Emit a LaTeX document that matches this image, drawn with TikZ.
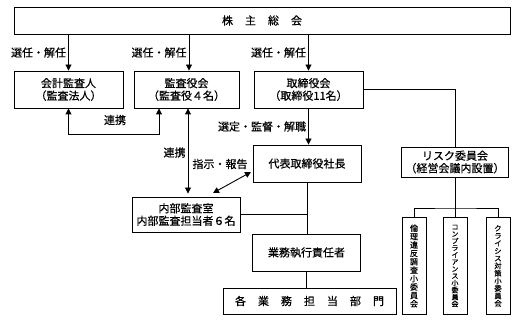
\documentclass[tikz,border=0pt]{standalone}
\usepackage{fontspec}
\setmainfont{Noto Sans CJK JP}[FakeBold=0.5]
\usetikzlibrary{calc,arrows.meta}
\begin{document}
\begin{tikzpicture}[x=1pt,y=-1pt,
  box/.style={draw,line width=0.9pt,rectangle,inner sep=0pt,align=center,font=\fontsize{11}{12.5}\selectfont},
  vbox/.style={draw,line width=0.9pt,rectangle,inner sep=0pt,align=center,minimum height=97pt},
  conn/.style={line width=0.9pt},
  arr/.style={conn,-{Triangle[width=6pt,length=6pt]}},
  darr/.style={conn,{Triangle[width=6pt,length=6pt]}-{Triangle[width=6pt,length=6pt]}},
  lab/.style={font=\fontsize{11}{12}\selectfont,inner sep=2pt}]
\useasboundingbox (0,0) rectangle (517,320);
\node[box,minimum width=496pt,minimum height=27pt] (sh) at (262,20.5) {株\hspace{12pt}主\hspace{12pt}総\hspace{12pt}会};
\node[box,minimum width=109pt,minimum height=37pt] (ka) at (68.5,89.5) {会計監査人\\（監査法人）};
\node[box,minimum width=105pt,minimum height=37pt] (kan) at (186.5,89.5) {監査役会\\（監査役４名）};
\node[box,minimum width=109pt,minimum height=37pt] (tori) at (308.5,89.5) {取締役会\\（取締役11名）};
\node[box,minimum width=108pt,minimum height=37pt] (dai) at (307,163.5) {代表取締役社長};
\node[box,minimum width=108pt,minimum height=35pt] (nai) at (186,214.5) {内部監査室\\内部監査担当者６名};
\node[box,minimum width=108pt,minimum height=37pt] (gyo) at (306.5,252.5) {業務執行責任者};
\node[box,minimum width=173pt,minimum height=26pt] (kaku) at (309.5,301) {各\hspace{12pt}業\hspace{12pt}務\hspace{12pt}担\hspace{12pt}当\hspace{12pt}部\hspace{12pt}門};
\node[box,minimum width=107pt,minimum height=30pt] (risk) at (455,162) {リスク委員会\\（経営会議内設置）};
\node[vbox,minimum width=24pt,font=\fontsize{8}{8.4}\selectfont] (v1) at (414,266) {倫\\理\\違\\反\\調\\査\\小\\委\\員\\会};
\node[vbox,minimum width=24pt,font=\fontsize{7}{7}\selectfont] (v2) at (455,266) {コ\\ン\\プ\\ラ\\イ\\ア\\ン\\ス\\小\\委\\員\\会};
\node[vbox,minimum width=24pt,font=\fontsize{7.3}{7.5}\selectfont] (v3) at (498,266) {ク\\ラ\\イ\\シ\\ス\\対\\策\\小\\委\\員\\会};
% shareholders arrows
\draw[arr] (sh.south -| ka.north) -- node[lab,left] {選任・解任} (ka.north);
\draw[arr] ($(sh.south -| kan.north)+(2.5,0)$) -- node[lab,left] {選任・解任} ($(kan.north)+(2.5,0)$);
\draw[arr] (sh.south -| tori.north) -- node[lab,left] {選任・解任} (tori.north);
% renkei bottom
\coordinate (l1) at (159,134);
\draw[darr] (ka.south) |- (l1) -- (l1 |- kan.south);
\node[lab] (r1) at (115,120) {連携};
% renkei vertical
\draw[darr,shorten >=3pt] ($(kan.south)+(1.5,0)$) -- node[lab,left] {連携} ($(nai.north)+(2,0)$);
% board to president
\draw[arr] (tori.south) -- node[lab,left] {選定・監督・解職} (tori.south |- dai.north);
% board to risk
\draw[conn] (tori.east) -| (risk.north);
% instruction / report
\coordinate (d1) at (213,193);
\coordinate (d2) at (251,172);
\draw[darr] (d1) -- (d2);
\node[lab] (r2) at (220,164) {指示・報告};
% president to business
\draw[conn] (dai.south) -- (dai.south |- gyo.north);
\draw[conn] (nai.east) -- (nai.east -| dai.south);
\draw[conn] (gyo.south) -- (gyo.south |- kaku.north);
% risk subcommittees
\coordinate (rj) at (455,208);
\draw[conn] (risk.south) -- (rj);
\draw[conn] (v1.north) |- (rj) -| (v3.north);
\draw[conn] (rj) -- (v2.north);
\end{tikzpicture}
\end{document}
